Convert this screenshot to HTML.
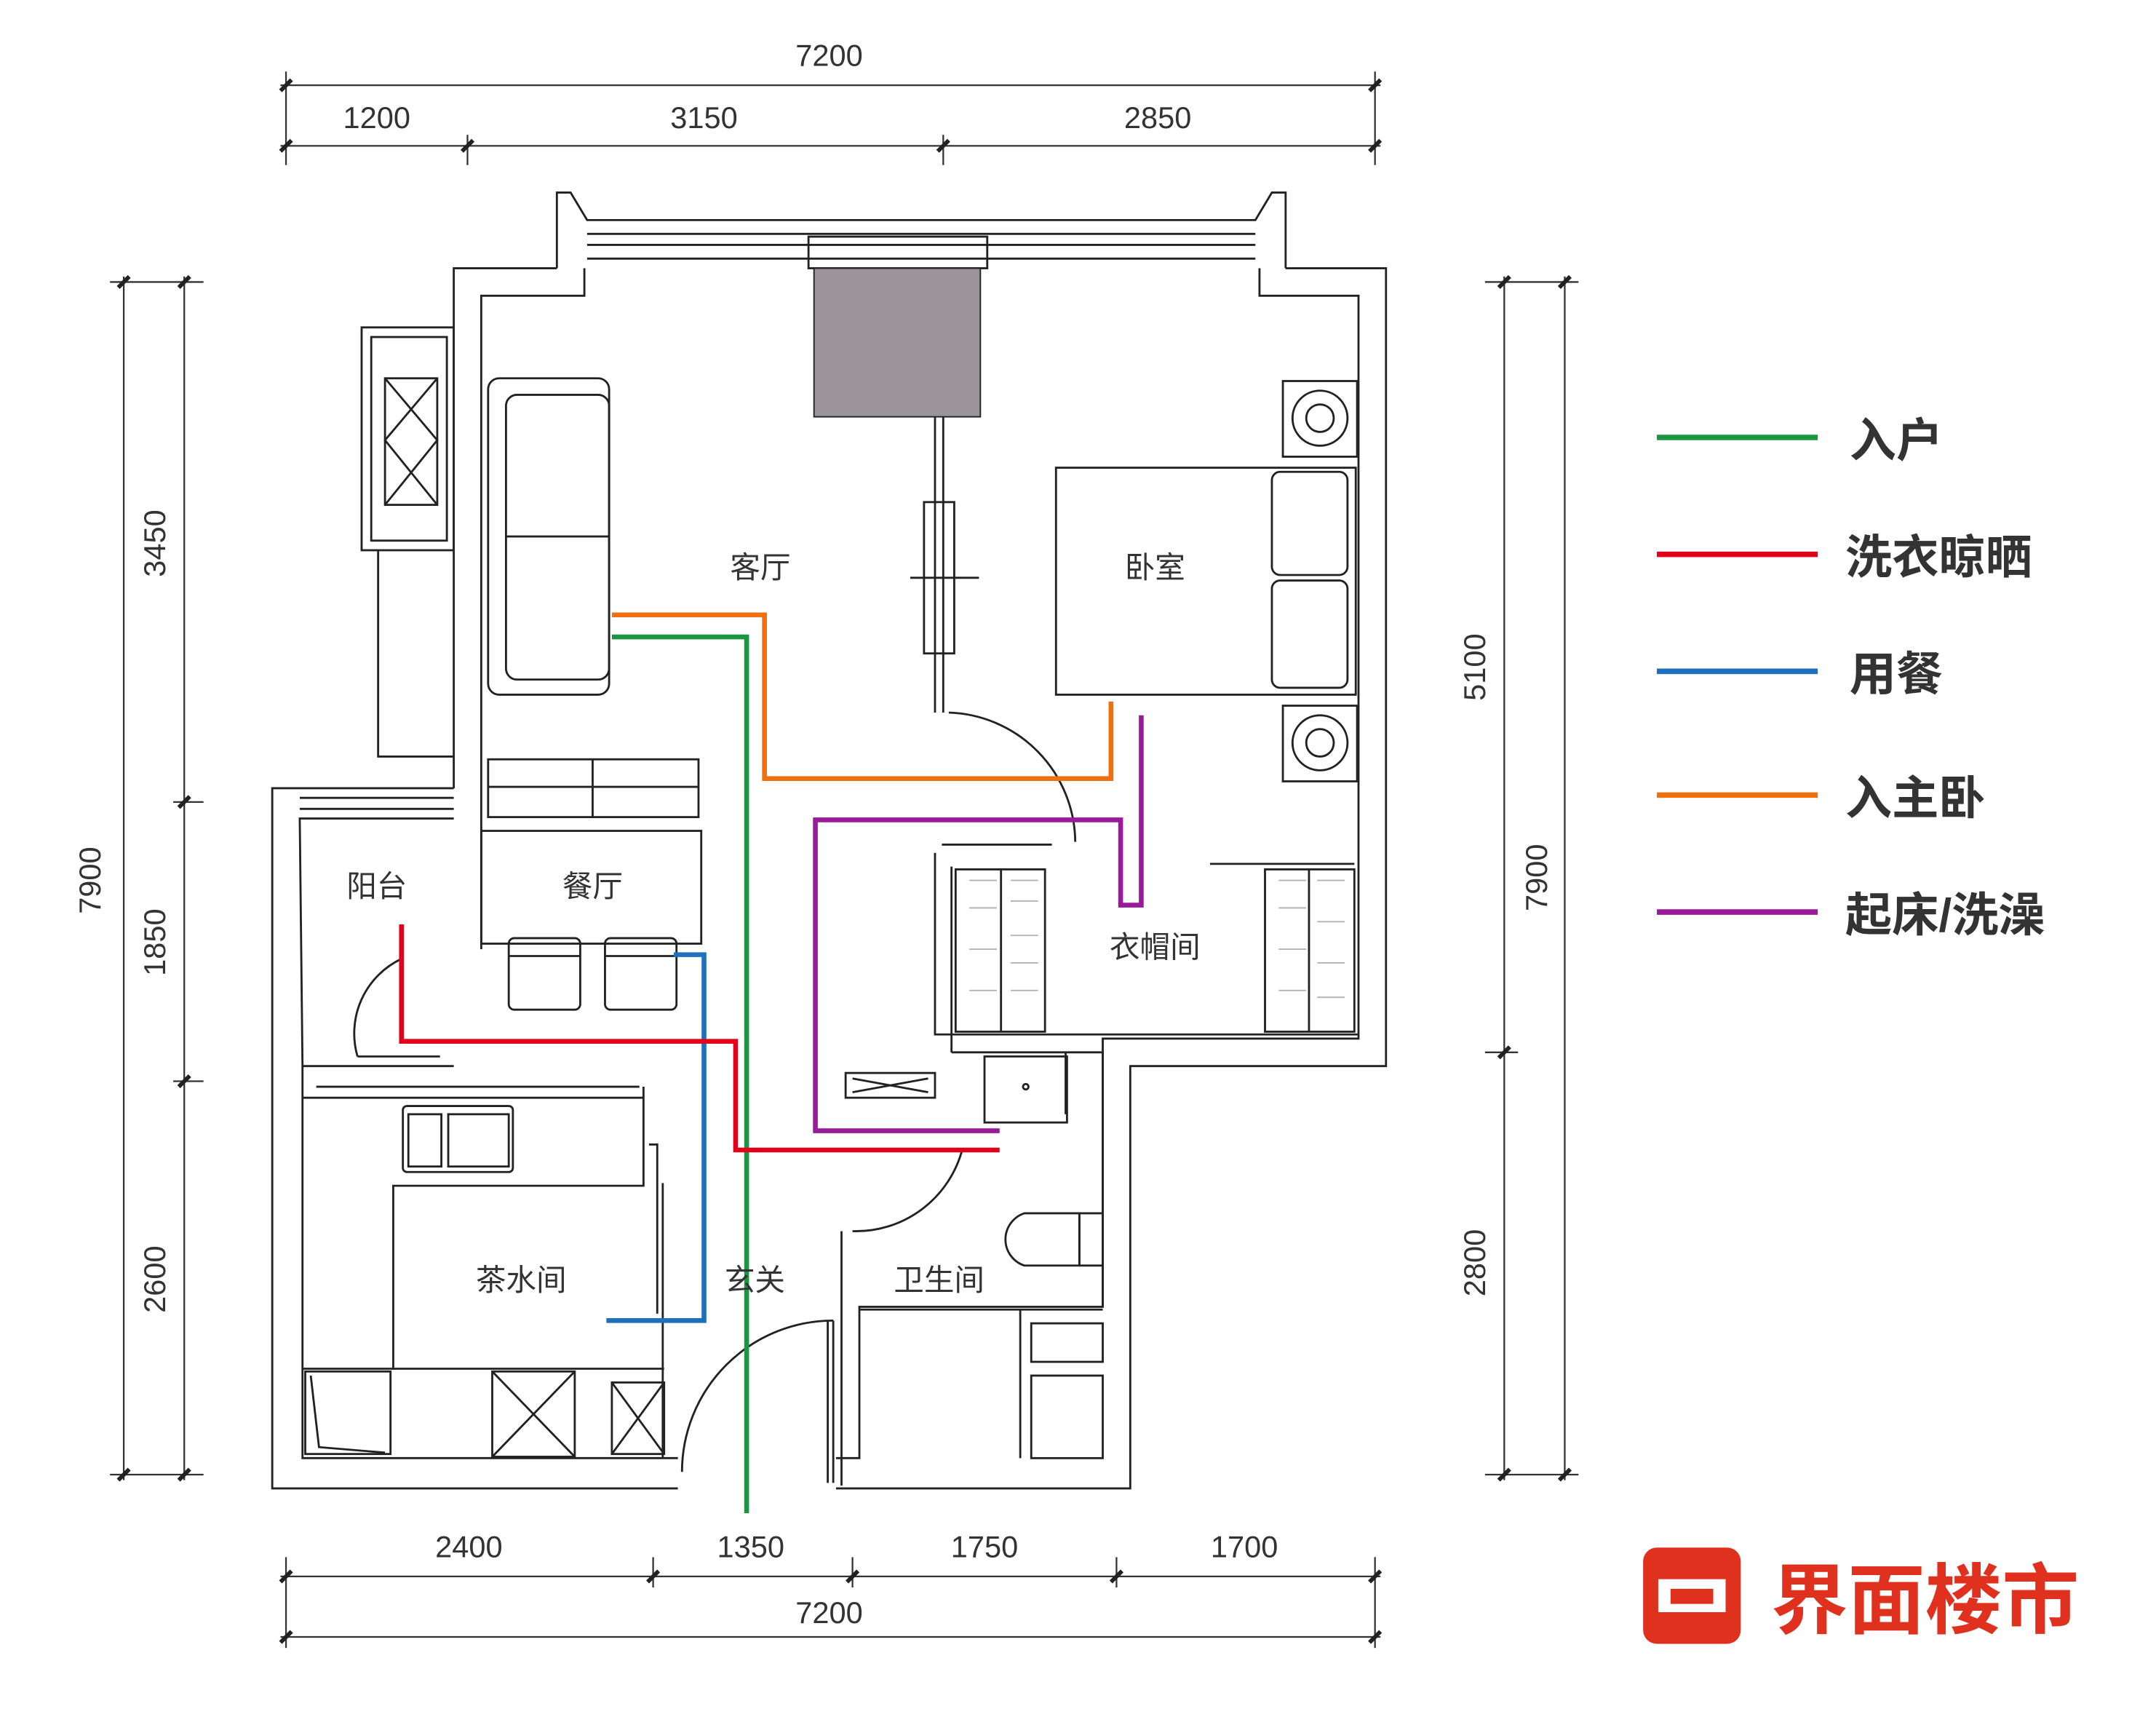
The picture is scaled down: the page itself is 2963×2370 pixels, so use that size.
<!DOCTYPE html>
<html><head><meta charset="utf-8"><style>
html,body{margin:0;padding:0;background:#fff;}
svg{display:block;}
text{font-family:"Liberation Sans","Noto Sans CJK SC",sans-serif;fill:#333;}
</style></head><body>
<svg width="2963" height="2370" viewBox="0 0 1568 1254" preserveAspectRatio="none" xmlns="http://www.w3.org/2000/svg">
<g stroke="#333" stroke-width="1.2" fill="none">
<line x1="204" y1="62" x2="1004" y2="62"/>
<line x1="204" y1="106" x2="1004" y2="106"/>
<line x1="208" y1="52" x2="208" y2="120"/><line x1="1000" y1="52" x2="1000" y2="120"/>
<line x1="340" y1="98" x2="340" y2="120"/><line x1="686" y1="98" x2="686" y2="120"/>
<line x1="204" y1="1146" x2="1004" y2="1146"/>
<line x1="204" y1="1190" x2="1004" y2="1190"/>
<line x1="208" y1="1132" x2="208" y2="1198"/><line x1="1000" y1="1132" x2="1000" y2="1198"/>
<line x1="475" y1="1132" x2="475" y2="1154"/><line x1="620" y1="1132" x2="620" y2="1154"/><line x1="812" y1="1132" x2="812" y2="1154"/>
<line x1="90" y1="201" x2="90" y2="1076"/><line x1="134" y1="201" x2="134" y2="1076"/>
<line x1="80" y1="205" x2="148" y2="205"/><line x1="80" y1="1072" x2="148" y2="1072"/>
<line x1="126" y1="583" x2="148" y2="583"/><line x1="126" y1="786" x2="148" y2="786"/>
<line x1="1094" y1="201" x2="1094" y2="1076"/><line x1="1138" y1="201" x2="1138" y2="1076"/>
<line x1="1080" y1="205" x2="1148" y2="205"/><line x1="1080" y1="1072" x2="1148" y2="1072"/>
<line x1="1080" y1="765" x2="1104" y2="765"/>
</g>
<g stroke="#222" stroke-width="3" fill="none">
<line x1="204" y1="66" x2="212" y2="58"/><line x1="996" y1="66" x2="1004" y2="58"/>
<line x1="204" y1="110" x2="212" y2="102"/><line x1="336" y1="110" x2="344" y2="102"/><line x1="682" y1="110" x2="690" y2="102"/><line x1="996" y1="110" x2="1004" y2="102"/>
<line x1="204" y1="1150" x2="212" y2="1142"/><line x1="471" y1="1150" x2="479" y2="1142"/><line x1="616" y1="1150" x2="624" y2="1142"/><line x1="808" y1="1150" x2="816" y2="1142"/><line x1="996" y1="1150" x2="1004" y2="1142"/>
<line x1="204" y1="1194" x2="212" y2="1186"/><line x1="996" y1="1194" x2="1004" y2="1186"/>
<line x1="86" y1="209" x2="94" y2="201"/><line x1="86" y1="1076" x2="94" y2="1068"/>
<line x1="130" y1="209" x2="138" y2="201"/><line x1="130" y1="587" x2="138" y2="579"/><line x1="130" y1="790" x2="138" y2="782"/><line x1="130" y1="1076" x2="138" y2="1068"/>
<line x1="1090" y1="209" x2="1098" y2="201"/><line x1="1090" y1="769" x2="1098" y2="761"/><line x1="1090" y1="1076" x2="1098" y2="1068"/>
<line x1="1134" y1="209" x2="1142" y2="201"/><line x1="1134" y1="1076" x2="1142" y2="1068"/>
</g>
<g font-size="22" text-anchor="middle">
<text x="603" y="48">7200</text>
<text x="274" y="93">1200</text><text x="512" y="93">3150</text><text x="842" y="93">2850</text>
<text x="341" y="1132">2400</text><text x="546" y="1132">1350</text><text x="716" y="1132">1750</text><text x="905" y="1132">1700</text>
<text x="603" y="1180">7200</text>
<text transform="translate(73,640) rotate(-90)">7900</text>
<text transform="translate(120,395) rotate(-90)">3450</text>
<text transform="translate(120,685) rotate(-90)">1850</text>
<text transform="translate(120,930) rotate(-90)">2600</text>
<text transform="translate(1080,485) rotate(-90)">5100</text>
<text transform="translate(1080,918) rotate(-90)">2800</text>
<text transform="translate(1125,638) rotate(-90)">7900</text>
</g>
<g stroke="#222" stroke-width="1.5" fill="none">
<path d="M330,573 L330,195 L405,195 M935,195 L1008,195 L1008,775 L822,775 L822,1082 L608,1082 M493,1082 L198,1082 L198,573 L330,573"/>
<path d="M350,690 L350,215 L425,215 L425,195 M916,195 L916,215 L988,215 L988,755 L802,755 L802,950 L625,950 L625,1060 L608,1060 M493,1060 L220,1060 L220,775 L218,595 L330,595"/>
<path d="M405,195 L405,140 L415,140 L427,160 L913,160 L925,140 L935,140 L935,195"/>
<line x1="427" y1="170" x2="913" y2="170"/><line x1="427" y1="178" x2="913" y2="178"/><line x1="427" y1="188" x2="913" y2="188"/>
<rect x="588" y="172" width="130" height="23"/>
<rect x="263" y="238" width="67" height="162"/><rect x="270" y="245" width="55" height="148"/>
<rect x="280" y="275" width="38" height="92"/>
<path d="M280,275 L318,320 L280,367 M318,275 L280,320 L318,367"/>
<path d="M275,400 L275,550 L330,550"/>
<line x1="218" y1="580" x2="330" y2="580"/><line x1="218" y1="588" x2="330" y2="588"/>
<line x1="220" y1="775" x2="330" y2="775"/><line x1="230" y1="790" x2="465" y2="790"/><line x1="220" y1="798" x2="468" y2="798"/>
<path d="M468,790 L468,862 L286,862 L286,995 L220,995"/>
<rect x="293" y="804" width="80" height="48" rx="3"/><rect x="297" y="810" width="24" height="38"/><rect x="326" y="810" width="44" height="38"/>
<rect x="222" y="997" width="62" height="60"/><path d="M226,1000 L232,1052 L280,1056"/>
<rect x="358" y="997" width="60" height="62"/><path d="M358,997 L418,1059 M418,997 L358,1059"/>
<rect x="445" y="1005" width="38" height="52"/><path d="M445,1005 L483,1057 M483,1005 L445,1057"/>
<line x1="286" y1="995" x2="483" y2="995"/>
<path d="M472,832 L478,832 L478,955 M482,860 L482,1060" />
<rect x="355" y="275" width="88" height="230" rx="8"/><rect x="368" y="287" width="75" height="207" rx="8"/><line x1="368" y1="390" x2="443" y2="390"/>
<rect x="355" y="552" width="153" height="42"/><line x1="355" y1="572" x2="508" y2="572"/><line x1="431" y1="552" x2="431" y2="594"/>
<rect x="350" y="604" width="160" height="82"/>
<rect x="370" y="682" width="52" height="52" rx="4"/><rect x="440" y="682" width="52" height="52" rx="4"/>
<line x1="370" y1="695" x2="422" y2="695"/><line x1="440" y1="695" x2="492" y2="695"/>
<path d="M292,697 A60,60 0 0,0 260,768"/><line x1="260" y1="768" x2="320" y2="768"/>
<path d="M690,518 A95,95 0 0,1 782,612"/><line x1="686" y1="303" x2="686" y2="518"/><line x1="680" y1="303" x2="680" y2="518"/>
<rect x="672" y="365" width="22" height="110"/><line x1="662" y1="420" x2="712" y2="420"/>
<path d="M700,835 A80,80 0 0,1 620,895"/><line x1="612" y1="895" x2="612" y2="1080"/>
<path d="M606,960 A110,110 0 0,0 496,1070"/><line x1="602" y1="960" x2="602" y2="1078"/><line x1="606" y1="960" x2="606" y2="1078"/>
<rect x="768" y="340" width="218" height="165"/><rect x="925" y="343" width="55" height="75" rx="6"/><rect x="925" y="422" width="55" height="78" rx="6"/>
<rect x="933" y="277" width="54" height="55"/><circle cx="960" cy="304" r="20"/><circle cx="960" cy="304" r="10"/>
<rect x="933" y="513" width="54" height="55"/><circle cx="960" cy="540" r="20"/><circle cx="960" cy="540" r="10"/>
<path d="M680,620 L680,752 L988,752 M692,630 L692,765"/>
<rect x="695" y="632" width="65" height="118"/><rect x="920" y="632" width="65" height="118"/>
<line x1="728" y1="632" x2="728" y2="750"/><line x1="952" y1="632" x2="952" y2="750"/>
<line x1="685" y1="614" x2="765" y2="614"/><line x1="880" y1="628" x2="985" y2="628"/>
<rect x="615" y="780" width="65" height="18"/><path d="M620,784 L675,794 M620,794 L675,784"/>
<path d="M692,765 L802,765 M802,765 L802,950 M775,765 L775,810"/>
<rect x="716" y="768" width="60" height="48"/><circle cx="746" cy="790" r="2"/>
<path d="M785,882 L745,882 A20,20 0 0,0 745,920 L785,920 Z"/><rect x="785" y="882" width="17" height="38"/>
<line x1="625" y1="952" x2="802" y2="952"/><line x1="742" y1="952" x2="742" y2="1060"/>
<rect x="750" y="962" width="52" height="28"/><rect x="750" y="1000" width="52" height="60"/>
</g>
<g stroke="#b3b3b3" stroke-width="1" fill="none">
<path d="M735,640 h20 M735,655 h20 M735,680 h20 M735,700 h20 M735,720 h20 M705,640 h20 M705,660 h20 M705,690 h20 M705,720 h20 M930,640 h20 M930,660 h20 M930,690 h20 M930,720 h20 M958,640 h20 M958,670 h20 M958,700 h20 M958,725 h20"/>
</g>
<rect x="592" y="195" width="121" height="108" fill="#9a9399" stroke="#222"/>
<g fill="none" stroke-width="3.5">
<path d="M445,463 L543,463 L543,1100" stroke="#1a9641"/>
<path d="M445,447 L556,447 L556,566 L808,566 L808,510" stroke="#f07010"/>
<path d="M490,694 L512,694 L512,960 L441,960" stroke="#1f6fbf"/>
<path d="M292,672 L292,757 L535,757 L535,836 L727,836" stroke="#e3001b"/>
<path d="M830,520 L830,658 L815,658 L815,596 L593,596 L593,822 L727,822" stroke="#9b1a9b"/>
</g>
<g font-size="22" text-anchor="middle">
<text x="553" y="420">客厅</text><text x="840" y="420">卧室</text>
<text x="274" y="652">阳台</text><text x="431" y="652">餐厅</text>
<text x="840" y="696">衣帽间</text><text x="379" y="938">茶水间</text>
<text x="549" y="938">玄关</text><text x="683" y="938">卫生间</text>
</g>
<g stroke-width="4">
<line x1="1205" y1="318" x2="1322" y2="318" stroke="#1a9641"/>
<line x1="1205" y1="403" x2="1322" y2="403" stroke="#e3001b"/>
<line x1="1205" y1="488" x2="1322" y2="488" stroke="#1f6fbf"/>
<line x1="1205" y1="578" x2="1322" y2="578" stroke="#f07010"/>
<line x1="1205" y1="663" x2="1322" y2="663" stroke="#9b1a9b"/>
</g>
<g font-size="34" font-weight="bold">
<text x="1345" y="332" fill="#111">入户</text>
<text x="1342" y="417" fill="#111">洗衣晾晒</text>
<text x="1345" y="502" fill="#111">用餐</text>
<text x="1342" y="592" fill="#111">入主卧</text>
<text x="1342" y="677" fill="#111">起床/洗澡</text>
</g>
<rect x="1195" y="1125" width="71" height="70" rx="10" fill="#e0301e"/>
<path d="M1206,1148 L1255,1148 L1255,1172 L1206,1172 Z M1215,1155 L1246,1155 L1246,1166 L1215,1166 Z" fill="#fff" fill-rule="evenodd"/>
<text x="1288" y="1183" font-size="56" font-weight="bold" style="fill:#e0301e">界面楼市</text>
</svg>
</body></html>
